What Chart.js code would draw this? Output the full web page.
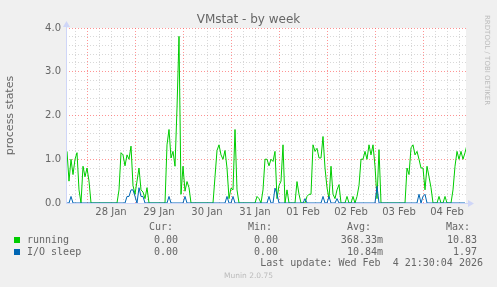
<!DOCTYPE html>
<html>
<head>
<meta charset="utf-8">
<script src="https://cdn.jsdelivr.net/npm/chart.js@4"></script>
<style>
  body { margin: 0; background: #f0f0f0; }
  #wrap { position: relative; width: 497px; height: 287px; overflow: hidden; }
  #c { position: absolute; left: 0; top: 0; }
  .t { position: absolute; white-space: pre; color: #666; font-family: "DejaVu Sans Mono"; font-size: 10px; line-height: 12px; }
  .sq { position: absolute; width: 6px; height: 6px; }
</style>
</head>
<body>
<div id="wrap">
  <canvas id="c" width="497" height="287"></canvas>
  <div class="t" style="left:0;width:497px;top:12px;text-align:center;font-family:'DejaVu Sans';font-size:12px;line-height:14px;">VMstat - by week</div>
  <div class="t" style="left:483px;top:15px;writing-mode:vertical-rl;font-family:'DejaVu Sans';font-size:7px;line-height:8px;color:#bbb;">RRDTOOL / TOBI OETIKER</div>

  <div class="t" style="right:324px;top:221px;">Cur:</div>
  <div class="t" style="right:225px;top:221px;">Min:</div>
  <div class="t" style="right:126px;top:221px;">Avg:</div>
  <div class="t" style="right:27px;top:221px;">Max:</div>

  <div class="sq" style="left:14px;top:237px;background:#00cc00;"></div>
  <div class="t" style="left:27px;top:234px;">running</div>
  <div class="t" style="right:319px;top:234px;">0.00</div>
  <div class="t" style="right:219px;top:234px;">0.00</div>
  <div class="t" style="right:114px;top:234px;">368.33m</div>
  <div class="t" style="right:20px;top:234px;">10.83</div>

  <div class="sq" style="left:14px;top:249px;background:#0066b3;"></div>
  <div class="t" style="left:27px;top:246px;">I/O sleep</div>
  <div class="t" style="right:319px;top:246px;">0.00</div>
  <div class="t" style="right:219px;top:246px;">0.00</div>
  <div class="t" style="right:114px;top:246px;">10.84m</div>
  <div class="t" style="right:20px;top:246px;">1.97</div>

  <div class="t" style="right:14px;top:257px;">Last update: Wed Feb  4 21:30:04 2026</div>
  <div class="t" style="left:0;width:497px;top:271px;text-align:center;font-family:'DejaVu Sans';font-size:7.5px;line-height:10px;color:#bbb;">Munin 2.0.75</div>
</div>
<script>
// hourly samples, first one at 27 Jan 14:00 (hours counted from 27 Jan 00:00)
var startHour = 14;
var dayLabels = ["28 Jan", "29 Jan", "30 Jan", "31 Jan", "01 Feb", "02 Feb", "03 Feb", "04 Feb"];

var running = [
    1.18, 0.5, 1.0, 0.65, 1.0, 1.15, 0.3, 0, 0.84, 0.6,
    0.8, 0.5, 0, 0, 0, 0, 0, 0, 0, 0, 0, 0, 0, 0, 0, 0, 0.3, 1.15, 1.1, 0.85, 1.1, 1.0, 1.3, 0.4, 0.2, 0.5,
    0.8, 0.3, 0.25, 0.1, 0.35, 0, 0, 0, 0, 0, 0, 0, 0, 0, 1.33, 1.68, 1.03, 1.18, 0.84, 2.17, 3.81, 0.2, 0.84, 0.27,
    0.49, 0.35, 0, 0, 0, 0, 0, 0, 0, 0, 0, 0, 0, 0, 0.6, 1.2, 1.33, 1.1, 1.0, 1.2, 0.8, 0.1, 0.34, 0.3,
    1.68, 0.3, 0, 0, 0, 0, 0, 0, 0, 0, 0, 0.15, 0.1, 0, 0.3, 1.0, 1.0, 0.85, 1.0, 0.95, 1.18, 0.1, 0.4, 0.5,
    1.33, 0, 0.3, 0, 0, 0, 0, 0.49, 0.2, 0, 0, 0, 0.15, 0.2, 0.2, 1.33, 1.18, 1.25, 1.03, 1.03, 1.52, 0.8, 0.35, 0.1,
    0.84, 0.2, 0.1, 0.3, 0.42, 0, 0, 0, 0.15, 0, 0, 0.15, 0, 0.15, 0.4, 1.0, 1.0, 1.18, 1.0, 1.33, 1.1, 1.33, 0.84, 0.1,
    1.22, 0, 0, 0, 0, 0, 0, 0, 0, 0, 0, 0, 0, 0, 0.8, 0.65, 1.26, 1.33, 1.1, 1.18, 1.0, 0.8, 0.8, 0.3,
    0.84, 0.6, 0.35, 0, 0, 0, 0.15, 0, 0, 0.15, 0, 0, 0, 0.3, 0.84, 1.18, 1.0, 1.18, 1.0, 1.15, 1.33, 0
];

var ioSleep = [
    0, 0, 0.15, 0, 0, 0, 0, 0, 0, 0,
    0, 0, 0, 0, 0, 0, 0, 0, 0, 0, 0, 0, 0, 0, 0, 0, 0, 0, 0, 0, 0.15, 0.15, 0.3, 0.3,
    0.15, 0, 0.35, 0.15, 0.15, 0, 0, 0, 0, 0, 0, 0, 0, 0, 0, 0, 0, 0.15, 0, 0, 0, 0, 0, 0,
    0, 0.15, 0, 0, 0, 0, 0, 0, 0, 0, 0, 0, 0, 0, 0, 0, 0, 0, 0, 0, 0, 0, 0.15, 0,
    0, 0.15, 0, 0, 0, 0, 0, 0, 0, 0, 0, 0, 0, 0, 0, 0, 0, 0, 0, 0.15, 0, 0, 0.34, 0.2,
    0, 0, 0, 0, 0, 0, 0, 0, 0, 0, 0, 0, 0, 0.1, 0, 0, 0, 0, 0, 0, 0, 0, 0.15, 0,
    0, 0.15, 0, 0, 0, 0.1, 0, 0, 0, 0, 0, 0, 0, 0, 0, 0, 0, 0, 0, 0, 0, 0, 0, 0,
    0, 0.38, 0, 0, 0, 0, 0, 0, 0, 0, 0, 0, 0, 0, 0, 0, 0, 0, 0, 0, 0, 0, 0.2, 0,
    0.15, 0.2, 0, 0, 0, 0, 0, 0, 0, 0, 0, 0, 0, 0, 0, 0, 0, 0, 0, 0, 0, 0
];

function toPoints(arr) {
    return arr.map(function (v, i) { return { x: startHour + i, y: v }; });
}

var axisColor = "#cfd6f8";
var gridRed = "rgba(255,90,90,0.65)";
var gridGrey = "rgba(190,190,190,0.6)";

// white canvas behind the plot, then rrdtool style axis lines with little arrow heads
var axisArrows = {
    id: "axisArrows",
    beforeDraw: function (chart) {
        var a = chart.chartArea, ctx = chart.ctx;
        ctx.save();
        ctx.fillStyle = "#ffffff";
        ctx.fillRect(a.left, a.top, a.right - a.left, a.bottom - a.top);
        ctx.restore();
    },
    afterDatasetsDraw: function (chart) {
        var a = chart.chartArea, ctx = chart.ctx;
        ctx.save();
        ctx.strokeStyle = axisColor;
        ctx.fillStyle = axisColor;
        ctx.lineWidth = 1;
        ctx.beginPath();
        ctx.moveTo(a.left + 0.5, a.bottom);
        ctx.lineTo(a.left + 0.5, a.top - 4);
        ctx.moveTo(a.left, a.bottom + 0.5);
        ctx.lineTo(a.right + 4, a.bottom + 0.5);
        ctx.stroke();
        ctx.beginPath();
        ctx.moveTo(a.left - 3, a.top - 1);
        ctx.lineTo(a.left + 0.5, a.top - 7);
        ctx.lineTo(a.left + 4, a.top - 1);
        ctx.fill();
        ctx.beginPath();
        ctx.moveTo(a.right + 2, a.bottom - 3);
        ctx.lineTo(a.right + 8, a.bottom + 0.5);
        ctx.lineTo(a.right + 2, a.bottom + 4);
        ctx.fill();
        ctx.restore();
    }
};

new Chart("c", {
    type: "line",
    data: {
        datasets: [{
            label: "running",
            data: toPoints(running),
            borderColor: "#00cc00",
            borderWidth: 1,
            pointRadius: 0,
            tension: 0,
            order: 2
        }, {
            label: "I/O sleep",
            data: toPoints(ioSleep),
            borderColor: "#0066b3",
            borderWidth: 1,
            pointRadius: 0,
            tension: 0,
            order: 1
        }]
    },
    options: {
        responsive: false,
        animation: false,
        devicePixelRatio: 1,
        layout: { padding: { top: 28, right: 31, left: 0, bottom: 0 } },
        plugins: { legend: { display: false }, tooltip: { enabled: false } },
        scales: {
            x: {
                type: "linear",
                min: 13.5,
                max: 213.5,
                afterBuildTicks: function (s) {
                    s.ticks = [];
                    for (var h = 18; h <= 210; h += 6) s.ticks.push({ value: h });
                },
                afterFit: function (s) { s.height = 84; },
                ticks: {
                    autoSkip: false,
                    maxRotation: 0,
                    padding: 3,
                    color: "#666",
                    font: { family: "DejaVu Sans", size: 10 },
                    callback: function (v) { return v % 24 === 12 ? dayLabels[(v - 36) / 24] : ""; }
                },
                grid: {
                    drawTicks: false,
                    color: function (c) { return c.tick && c.tick.value % 24 === 0 ? gridRed : gridGrey; }
                },
                border: { display: false, dash: [1, 2] }
            },
            y: {
                min: 0,
                max: 4,
                afterBuildTicks: function (s) {
                    s.ticks = [];
                    for (var k = 0; k <= 20; k++) s.ticks.push({ value: k / 5 });
                },
                afterFit: function (s) { s.width = 66; },
                ticks: {
                    autoSkip: false,
                    padding: 5,
                    color: "#666",
                    font: { family: "DejaVu Sans", size: 10 },
                    callback: function (v, i) { return i % 5 === 0 ? v.toFixed(1) : ""; }
                },
                grid: {
                    drawTicks: false,
                    color: function (c) { return c.index % 5 === 0 ? gridRed : gridGrey; }
                },
                border: { display: false, dash: [1, 2] },
                title: {
                    display: true,
                    text: "process states",
                    color: "#666",
                    font: { family: "DejaVu Sans", size: 11 },
                    padding: { top: 4, bottom: 0 }
                }
            }
        }
    },
    plugins: [axisArrows]
});
</script>
</body>
</html>
